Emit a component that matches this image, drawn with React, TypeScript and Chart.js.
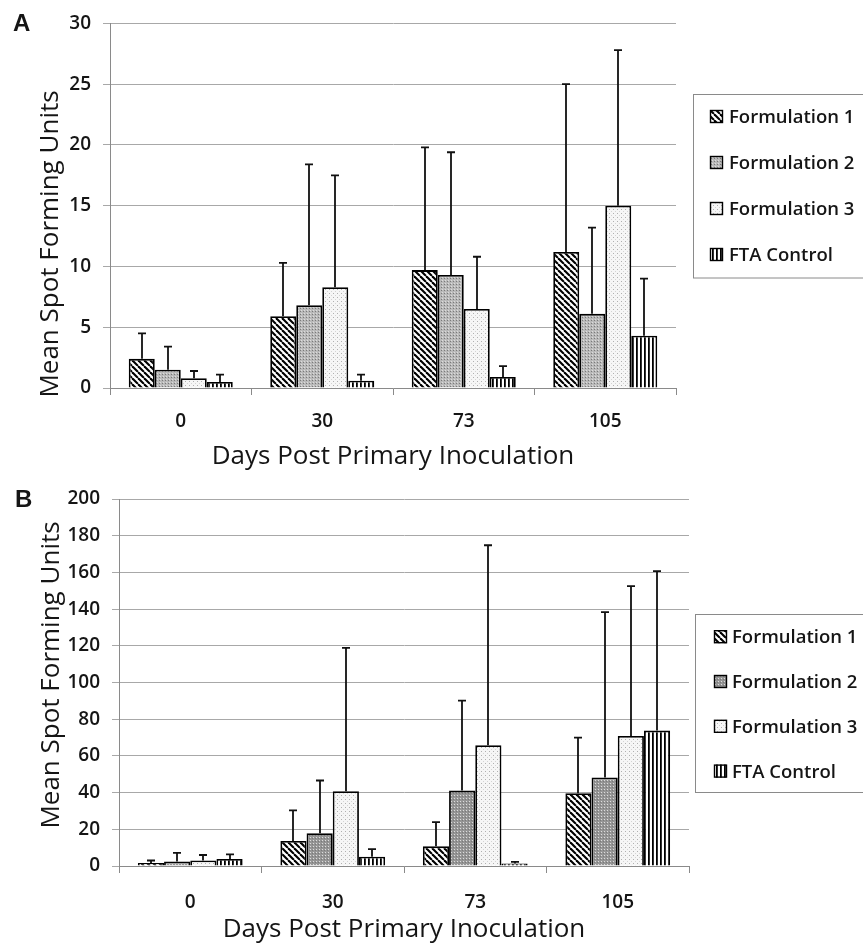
import React, { useEffect, useRef } from 'react';
import { Chart, registerables } from 'chart.js';

Chart.register(...registerables);

// ---------- data ----------
const categories = ['0', '30', '73', '105'];
const seriesNames = ['Formulation 1', 'Formulation 2', 'Formulation 3', 'FTA Control'];

// Panel A (means and upper SD)
const aFormulation1 = [2.4, 5.9, 9.7, 11.2];
const aFormulation2 = [1.5, 6.8, 9.3, 6.1];
const aFormulation3 = [0.8, 8.3, 6.5, 15.0];
const aFtaControl = [0.5, 0.6, 0.9, 4.3];
const aFormulation1Sd = [2.1, 4.4, 10.1, 13.8];
const aFormulation2Sd = [1.9, 11.6, 10.1, 7.1];
const aFormulation3Sd = [0.6, 9.2, 4.3, 12.8];
const aFtaControlSd = [0.6, 0.5, 0.9, 4.7];
const aAxisMax = 30;
const aAxisStep = 5;

// Panel B (means and upper SD)
const bFormulation1 = [1.6, 13.6, 10.7, 39.7];
const bFormulation2 = [2.5, 17.9, 41.1, 48.2];
const bFormulation3 = [3.0, 40.8, 65.8, 70.9];
const bFtaControl = [3.8, 5.1, 1.4, 73.8];
const bFormulation1Sd = [1.4, 16.7, 13.2, 30.3];
const bFormulation2Sd = [4.6, 28.7, 49.0, 90.2];
const bFormulation3Sd = [3.0, 78.1, 109.0, 81.6];
const bFtaControlSd = [2.5, 4.1, 0.9, 86.9];
const bAxisMax = 200;
const bAxisStep = 20;

const yTitle = 'Mean Spot Forming Units';
const xTitle = 'Days Post Primary Inoculation';

// ---------- layout ----------
const W = 863;
const FONT = '"Open Sans", "DejaVu Sans", sans-serif';
const TEXT = '#151515';

type Panel = {
  letter: string;
  values: number[][];
  errors: number[][];
  max: number;
  step: number;
  height: number;
  area: { left: number; top: number; right: number; bottom: number };
  xTickPad: number;
  grayFill: string;
  letterPos: [number, number];
  yTitlePos: [number, number];
  xTitlePos: [number, number];
  legend: { x: number; y: number; h: number; markerX: number; textX: number; firstY: number; step: number };
};

const panelA: Panel = {
  letter: 'A',
  values: [aFormulation1, aFormulation2, aFormulation3, aFtaControl],
  errors: [aFormulation1Sd, aFormulation2Sd, aFormulation3Sd, aFtaControlSd],
  max: aAxisMax,
  step: aAxisStep,
  height: 470,
  area: { left: 110, top: 19, right: 676, bottom: 388 },
  xTickPad: 15,
  grayFill: '#b9b9b9',
  letterPos: [13, 31],
  yTitlePos: [58, 244],
  xTitlePos: [393, 463.5],
  legend: { x: 693, y: 94, h: 183.5, markerX: 710, textX: 729, firstY: 116.5, step: 46 },
};

const panelB: Panel = {
  letter: 'B',
  values: [bFormulation1, bFormulation2, bFormulation3, bFtaControl],
  errors: [bFormulation1Sd, bFormulation2Sd, bFormulation3Sd, bFtaControlSd],
  max: bAxisMax,
  step: bAxisStep,
  height: 477,
  area: { left: 119, top: 29, right: 689, bottom: 396 },
  xTickPad: 18,
  grayFill: '#959595',
  letterPos: [15, 37],
  yTitlePos: [59, 205],
  xTitlePos: [404, 467],
  legend: { x: 695, y: 144, h: 178, markerX: 714, textX: 732, firstY: 166.7, step: 44.8 },
};

function makePatterns(gray: string): CanvasPattern[] {
  const mk = (w: number, h: number, draw: (g: CanvasRenderingContext2D) => void) => {
    const c = document.createElement('canvas');
    c.width = w;
    c.height = h;
    const g = c.getContext('2d')!;
    draw(g);
    return g.createPattern(c, 'repeat')!;
  };
  const diag = mk(6, 6, (g) => {
    g.fillStyle = '#fff';
    g.fillRect(0, 0, 6, 6);
    g.strokeStyle = '#000';
    g.lineWidth = 2.1;
    for (const o of [-6, 0, 6]) {
      g.beginPath();
      g.moveTo(o, 0);
      g.lineTo(o + 6, 6);
      g.stroke();
    }
  });
  const grey = mk(3, 3, (g) => {
    g.fillStyle = gray;
    g.fillRect(0, 0, 3, 3);
    g.fillStyle = '#dcdcdc';
    g.fillRect(1, 1, 1, 1);
    g.fillStyle = '#7a7a7a';
    g.fillRect(0, 2, 1, 1);
  });
  const dots = mk(4, 4, (g) => {
    g.fillStyle = '#f6f6f6';
    g.fillRect(0, 0, 4, 4);
    g.fillStyle = '#b0b0b0';
    g.fillRect(1, 1, 1, 1);
    g.fillStyle = '#d4d4d4';
    g.fillRect(3, 3, 1, 1);
  });
  const vert = mk(4, 4, (g) => {
    g.fillStyle = '#fff';
    g.fillRect(0, 0, 4, 4);
    g.fillStyle = '#000';
    g.fillRect(0, 0, 1.8, 4);
  });
  return [diag, grey, dots, vert];
}

function buildChart(canvas: HTMLCanvasElement, p: Panel): Chart {
  const patterns = makePatterns(p.grayFill);

  const errorBars = {
    id: 'errorBars',
    afterDatasetsDraw(chart: any) {
      const ctx = chart.ctx as CanvasRenderingContext2D;
      const y = chart.scales.y;
      ctx.save();
      ctx.strokeStyle = '#111';
      ctx.lineWidth = 1.8;
      chart.data.datasets.forEach((ds: any, i: number) => {
        const meta = chart.getDatasetMeta(i);
        meta.data.forEach((bar: any, j: number) => {
          const v = ds.data[j] as number;
          const top = y.getPixelForValue(v + p.errors[i][j]);
          const x = Math.round(bar.x);
          ctx.beginPath();
          ctx.moveTo(x, bar.y);
          ctx.lineTo(x, top);
          ctx.moveTo(x - 4, top);
          ctx.lineTo(x + 4, top);
          ctx.stroke();
        });
      });
      ctx.restore();
    },
  };

  const decorations = {
    id: 'decorations',
    afterDraw(chart: any) {
      const ctx = chart.ctx as CanvasRenderingContext2D;
      ctx.save();
      ctx.fillStyle = TEXT;
      // panel letter
      ctx.font = 'bold 24px "Liberation Sans", Arial, sans-serif';
      ctx.textAlign = 'left';
      ctx.textBaseline = 'alphabetic';
      ctx.fillText(p.letter, p.letterPos[0], p.letterPos[1]);
      // x title
      ctx.font = `26px ${FONT}`;
      ctx.textAlign = 'center';
      ctx.fillText(xTitle, p.xTitlePos[0], p.xTitlePos[1]);
      // y title
      ctx.save();
      ctx.translate(p.yTitlePos[0], p.yTitlePos[1]);
      ctx.rotate(-Math.PI / 2);
      ctx.fillText(yTitle, 0, 0);
      ctx.restore();
      // legend
      const L = p.legend;
      ctx.strokeStyle = '#8a8a8a';
      ctx.lineWidth = 1;
      ctx.strokeRect(L.x + 0.5, L.y + 0.5, W + 10 - L.x, L.h);
      ctx.font = `600 18.5px ${FONT}`;
      ctx.textAlign = 'left';
      chart.data.datasets.forEach((ds: any, i: number) => {
        const cy = L.firstY + i * L.step;
        ctx.fillStyle = ds.backgroundColor;
        ctx.fillRect(L.markerX, cy - 6.5, 13, 13);
        ctx.strokeStyle = '#000';
        ctx.lineWidth = 1.4;
        ctx.strokeRect(L.markerX + 0.5, cy - 6, 12, 12);
        ctx.fillStyle = TEXT;
        ctx.fillText(ds.label, L.textX, cy + 6.5);
      });
      ctx.restore();
    },
  };

  return new Chart(canvas, {
    type: 'bar',
    data: {
      labels: categories,
      datasets: seriesNames.map((name, i) => ({
        label: name,
        data: p.values[i],
        backgroundColor: patterns[i],
        borderColor: '#000',
        borderWidth: 1.8,
        borderSkipped: 'bottom',
        categoryPercentage: 0.735,
        barPercentage: 1,
      })),
    },
    options: {
      animation: false,
      responsive: false,
      maintainAspectRatio: false,
      events: [],
      layout: {
        padding: { left: 0, top: p.area.top, right: W - p.area.right, bottom: 0 },
      },
      plugins: {
        legend: { display: false },
        tooltip: { enabled: false },
        title: { display: false },
      },
      scales: {
        x: {
          type: 'category',
          offset: true,
          grid: {
            offset: true,
            drawOnChartArea: false,
            drawTicks: true,
            tickLength: 7,
            color: '#8a8a8a',
          },
          border: { display: true, color: '#8a8a8a', width: 1 },
          ticks: {
            padding: p.xTickPad,
            color: TEXT,
            font: { family: FONT, size: 19, weight: '600' },
            maxRotation: 0,
          },
          afterFit: (s: any) => {
            s.height = p.height - p.area.bottom;
          },
        },
        y: {
          min: 0,
          max: p.max,
          ticks: {
            stepSize: p.step,
            padding: 12,
            color: TEXT,
            font: { family: FONT, size: 19, weight: '600' },
          },
          grid: { color: '#a8a8a8', tickLength: 7, lineWidth: 1 },
          border: { display: true, color: '#8a8a8a', width: 1 },
          afterFit: (s: any) => {
            s.width = p.area.left;
          },
        },
      },
    } as any,
    plugins: [errorBars, decorations],
  } as any);
}

function PanelChart({ panel, top }: { panel: Panel; top: number }) {
  const ref = useRef<HTMLCanvasElement | null>(null);
  useEffect(() => {
    if (!ref.current) return;
    const chart = buildChart(ref.current, panel);
    return () => chart.destroy();
  }, [panel]);
  return (
    <canvas
      ref={ref}
      width={W}
      height={panel.height}
      style={{ position: 'absolute', left: 0, top, width: W, height: panel.height, display: 'block' }}
    />
  );
}

export default function App() {
  return (
    <div style={{ position: 'absolute', left: 0, top: 0, width: W, height: 947, background: '#fff' }}>
      <PanelChart panel={panelA} top={0} />
      <PanelChart panel={panelB} top={470} />
    </div>
  );
}
